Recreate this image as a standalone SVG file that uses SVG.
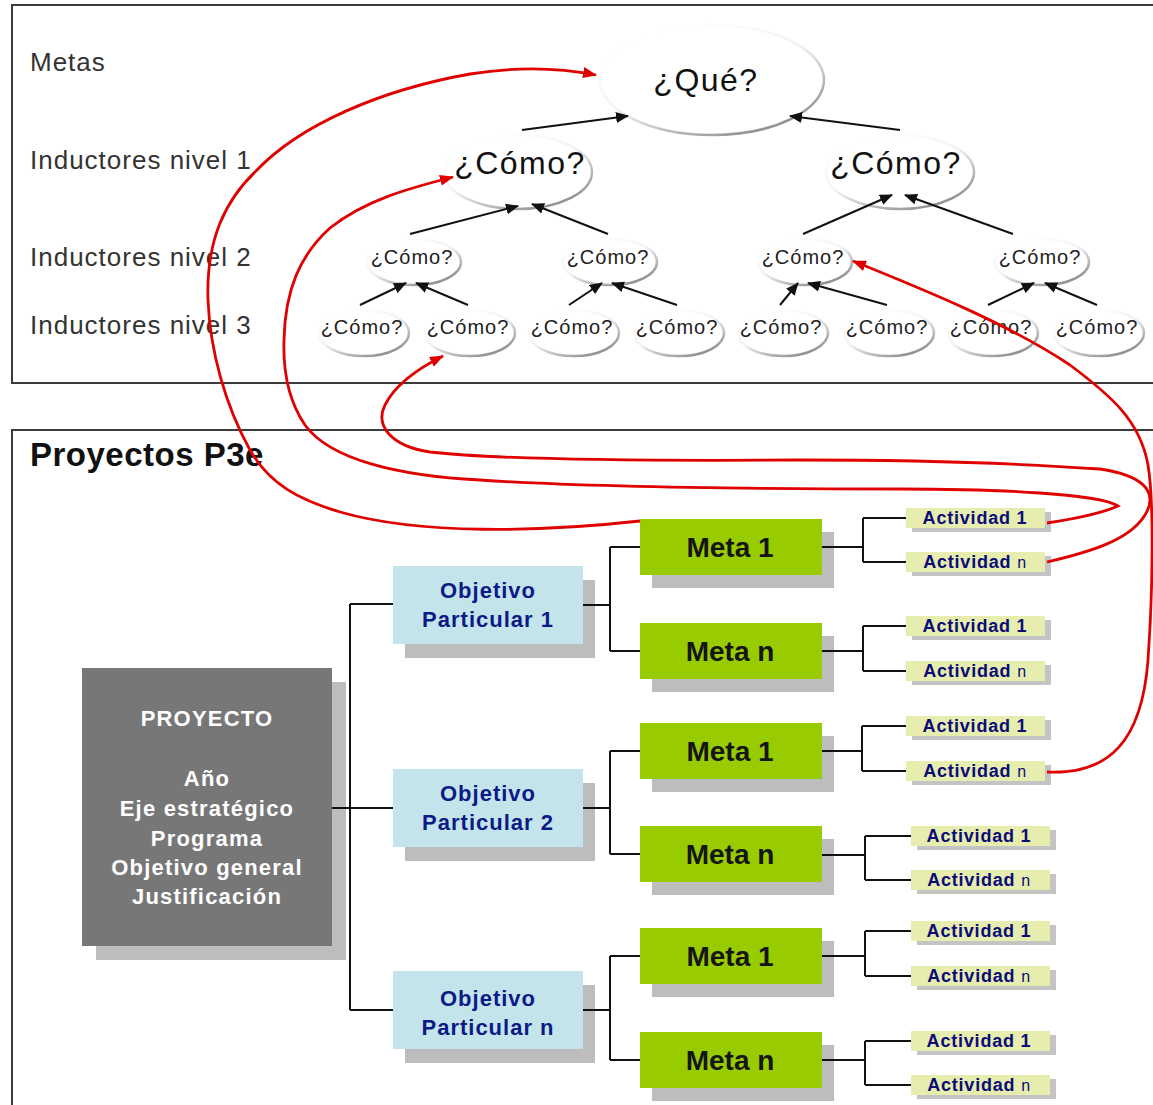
<svg xmlns="http://www.w3.org/2000/svg" width="1153" height="1105" viewBox="0 0 1153 1105">
<defs>
<style>
.panel{fill:none;stroke:#3c3c3c;stroke-width:2}
.lbl{font-family:"Liberation Sans",Arial,sans-serif;font-size:26px;fill:#333;letter-spacing:1px}
.ell{fill:#fff;stroke:url(#eg);stroke-width:2.5}
.q1{font-family:"Liberation Sans",Arial,sans-serif;font-size:32px;fill:#111;letter-spacing:1.5px;text-anchor:middle}
.q2{font-family:"Liberation Sans",Arial,sans-serif;font-size:20px;fill:#222;letter-spacing:1px;text-anchor:middle}
.blk{fill:none;stroke:#111;stroke-width:2;marker-end:url(#ab)}
.red{fill:none;stroke:#e00000;stroke-width:2.8;marker-end:url(#ar)}
.tree{fill:none;stroke:#111;stroke-width:2}
.shd{fill:#bdbdbd}
.proj{fill:#777}
.ptxt{font-family:"Liberation Sans",Arial,sans-serif;font-size:22px;font-weight:bold;fill:#fff;letter-spacing:1.2px;text-anchor:middle}
.obj{fill:#c2e4ea}
.otxt{font-family:"Liberation Sans",Arial,sans-serif;font-size:22px;font-weight:bold;fill:#0c1a86;letter-spacing:1px;text-anchor:middle}
.meta{fill:#99cc00}
.mtxt{font-family:"Liberation Sans",Arial,sans-serif;font-size:28px;font-weight:bold;fill:#151515;text-anchor:middle}
.act{fill:#e6edae}
.ashd{fill:#c4c4c4}
.atxt{font-family:"Liberation Sans",Arial,sans-serif;font-size:18px;font-weight:bold;fill:#0b0b78;letter-spacing:0.8px;text-anchor:middle}
.nn{font-weight:normal;font-size:16px}
.ttl{font-family:"Liberation Sans",Arial,sans-serif;font-size:33px;font-weight:bold;fill:#111;letter-spacing:0.5px}
</style>
<linearGradient id="eg" x1="0.2" y1="0.1" x2="0.8" y2="0.95">
<stop offset="0" stop-color="#ffffff"/>
<stop offset="0.45" stop-color="#f2f2f2"/>
<stop offset="1" stop-color="#8c8c8c"/>
</linearGradient>
<marker id="ab" markerUnits="userSpaceOnUse" markerWidth="13" markerHeight="11" refX="12" refY="5.5" orient="auto">
<path d="M0,0 L13,5.5 L0,11 z" fill="#111"/>
</marker>
<marker id="ar" markerUnits="userSpaceOnUse" markerWidth="14" markerHeight="11" refX="13" refY="5.5" orient="auto">
<path d="M0,0 L14,5.5 L0,11 z" fill="#e00000"/>
</marker>
</defs>
<rect width="1153" height="1105" fill="#fff"/>

<g id="panel-top">
<rect class="panel" x="12" y="5" width="1150" height="378"/>
<text class="lbl" x="30" y="71">Metas</text>
<text class="lbl" x="30" y="169">Inductores nivel 1</text>
<text class="lbl" x="30" y="266">Inductores nivel 2</text>
<text class="lbl" x="30" y="334">Inductores nivel 3</text>
</g>

<g id="panel-bottom">
<rect class="panel" x="12" y="430" width="1150" height="690"/>
<text class="ttl" x="30" y="466">Proyectos P3e</text>
</g>

<g id="que"><ellipse class="ell" cx="712" cy="80" rx="112" ry="55"/><text class="q1" x="706" y="91">¿Qué?</text></g>
<g id="como-1a"><ellipse class="ell" cx="518" cy="172" rx="74" ry="37"/><text class="q1" x="520" y="174">¿Cómo?</text></g>
<g id="como-1b"><ellipse class="ell" cx="900" cy="172" rx="74" ry="37"/><text class="q1" x="896" y="174">¿Cómo?</text></g>

<g id="como-2a"><ellipse class="ell" cx="414" cy="262" rx="47" ry="23"/><text class="q2" x="412" y="264">¿Cómo?</text></g>
<g id="como-2b"><ellipse class="ell" cx="610" cy="262" rx="47" ry="23"/><text class="q2" x="608" y="264">¿Cómo?</text></g>
<g id="como-2c"><ellipse class="ell" cx="805" cy="262" rx="47" ry="23"/><text class="q2" x="803" y="264">¿Cómo?</text></g>
<g id="como-2d"><ellipse class="ell" cx="1042" cy="262" rx="47" ry="23"/><text class="q2" x="1040" y="264">¿Cómo?</text></g>

<g id="como-3a"><ellipse class="ell" cx="364" cy="333" rx="45" ry="23"/><text class="q2" x="362" y="334">¿Cómo?</text></g>
<g id="como-3b"><ellipse class="ell" cx="470" cy="333" rx="45" ry="23"/><text class="q2" x="468" y="334">¿Cómo?</text></g>
<g id="como-3c"><ellipse class="ell" cx="574" cy="333" rx="45" ry="23"/><text class="q2" x="572" y="334">¿Cómo?</text></g>
<g id="como-3d"><ellipse class="ell" cx="679" cy="333" rx="45" ry="23"/><text class="q2" x="677" y="334">¿Cómo?</text></g>
<g id="como-3e"><ellipse class="ell" cx="783" cy="333" rx="45" ry="23"/><text class="q2" x="781" y="334">¿Cómo?</text></g>
<g id="como-3f"><ellipse class="ell" cx="889" cy="333" rx="45" ry="23"/><text class="q2" x="887" y="334">¿Cómo?</text></g>
<g id="como-3g"><ellipse class="ell" cx="993" cy="333" rx="45" ry="23"/><text class="q2" x="991" y="334">¿Cómo?</text></g>
<g id="como-3h"><ellipse class="ell" cx="1099" cy="333" rx="45" ry="23"/><text class="q2" x="1097" y="334">¿Cómo?</text></g>

<g id="proyecto">
<rect class="shd" x="96" y="682" width="250" height="278"/>
<rect class="proj" x="82" y="668" width="250" height="278"/>
<text class="ptxt" x="207" y="726">PROYECTO</text>
<text class="ptxt" x="207" y="786">Año</text>
<text class="ptxt" x="207" y="816">Eje estratégico</text>
<text class="ptxt" x="207" y="846">Programa</text>
<text class="ptxt" x="207" y="875">Objetivo general</text>
<text class="ptxt" x="207" y="904">Justificación</text>
</g>

<g id="obj-1"><rect class="shd" x="405" y="580" width="190" height="78"/><rect class="obj" x="393" y="566" width="190" height="78"/><text class="otxt" x="488" y="598">Objetivo</text><text class="otxt" x="488" y="627">Particular 1</text></g>
<g id="obj-2"><rect class="shd" x="405" y="783" width="190" height="78"/><rect class="obj" x="393" y="769" width="190" height="78"/><text class="otxt" x="488" y="801">Objetivo</text><text class="otxt" x="488" y="830">Particular 2</text></g>
<g id="obj-n"><rect class="shd" x="405" y="985" width="190" height="78"/><rect class="obj" x="393" y="971" width="190" height="78"/><text class="otxt" x="488" y="1006">Objetivo</text><text class="otxt" x="488" y="1035">Particular n</text></g>

<g id="meta-1-1"><rect class="shd" x="652" y="532" width="182" height="56"/><rect class="meta" x="640" y="519" width="182" height="56"/><text class="mtxt" x="730" y="557">Meta 1</text></g>
<g id="meta-1-n"><rect class="shd" x="652" y="636" width="182" height="56"/><rect class="meta" x="640" y="623" width="182" height="56"/><text class="mtxt" x="730" y="661">Meta n</text></g>
<g id="meta-2-1"><rect class="shd" x="652" y="736" width="182" height="56"/><rect class="meta" x="640" y="723" width="182" height="56"/><text class="mtxt" x="730" y="761">Meta 1</text></g>
<g id="meta-2-n"><rect class="shd" x="652" y="839" width="182" height="56"/><rect class="meta" x="640" y="826" width="182" height="56"/><text class="mtxt" x="730" y="864">Meta n</text></g>
<g id="meta-3-1"><rect class="shd" x="652" y="941" width="182" height="56"/><rect class="meta" x="640" y="928" width="182" height="56"/><text class="mtxt" x="730" y="966">Meta 1</text></g>
<g id="meta-3-n"><rect class="shd" x="652" y="1045" width="182" height="56"/><rect class="meta" x="640" y="1032" width="182" height="56"/><text class="mtxt" x="730" y="1070">Meta n</text></g>

<g id="act-1-1-1"><rect class="ashd" x="912" y="512" width="139" height="20"/><rect class="act" x="906" y="508" width="139" height="20"/><text class="atxt" x="975" y="524">Actividad 1</text></g>
<g id="act-1-1-n"><rect class="ashd" x="912" y="556" width="139" height="20"/><rect class="act" x="906" y="552" width="139" height="20"/><text class="atxt" x="975" y="568">Actividad <tspan class="nn">n</tspan></text></g>
<g id="act-1-n-1"><rect class="ashd" x="912" y="620" width="139" height="20"/><rect class="act" x="906" y="616" width="139" height="20"/><text class="atxt" x="975" y="632">Actividad 1</text></g>
<g id="act-1-n-n"><rect class="ashd" x="912" y="665" width="139" height="20"/><rect class="act" x="906" y="661" width="139" height="20"/><text class="atxt" x="975" y="677">Actividad <tspan class="nn">n</tspan></text></g>
<g id="act-2-1-1"><rect class="ashd" x="912" y="720" width="139" height="20"/><rect class="act" x="906" y="716" width="139" height="20"/><text class="atxt" x="975" y="732">Actividad 1</text></g>
<g id="act-2-1-n"><rect class="ashd" x="912" y="765" width="139" height="20"/><rect class="act" x="906" y="761" width="139" height="20"/><text class="atxt" x="975" y="777">Actividad <tspan class="nn">n</tspan></text></g>
<g id="act-2-n-1"><rect class="ashd" x="917" y="830" width="139" height="20"/><rect class="act" x="911" y="826" width="139" height="20"/><text class="atxt" x="979" y="842">Actividad 1</text></g>
<g id="act-2-n-n"><rect class="ashd" x="917" y="874" width="139" height="20"/><rect class="act" x="911" y="870" width="139" height="20"/><text class="atxt" x="979" y="886">Actividad <tspan class="nn">n</tspan></text></g>
<g id="act-3-1-1"><rect class="ashd" x="917" y="925" width="139" height="20"/><rect class="act" x="911" y="921" width="139" height="20"/><text class="atxt" x="979" y="937">Actividad 1</text></g>
<g id="act-3-1-n"><rect class="ashd" x="917" y="970" width="139" height="20"/><rect class="act" x="911" y="966" width="139" height="20"/><text class="atxt" x="979" y="982">Actividad <tspan class="nn">n</tspan></text></g>
<g id="act-3-n-1"><rect class="ashd" x="917" y="1035" width="139" height="20"/><rect class="act" x="911" y="1031" width="139" height="20"/><text class="atxt" x="979" y="1047">Actividad 1</text></g>
<g id="act-3-n-n"><rect class="ashd" x="917" y="1079" width="139" height="20"/><rect class="act" x="911" y="1075" width="139" height="20"/><text class="atxt" x="979" y="1091">Actividad <tspan class="nn">n</tspan></text></g>

<g id="connectors">
<path class="tree" d="M332,808 H393 M350,604 V1010 M350,604 H393 M350,1010 H393"/>
<path class="tree" d="M583,605 H610 M610,547 V651 M610,547 H640 M610,651 H640"/>
<path class="tree" d="M583,808 H610 M610,751 V854 M610,751 H640 M610,854 H640"/>
<path class="tree" d="M583,1010 H610 M610,956 V1060 M610,956 H640 M610,1060 H640"/>
<path class="tree" d="M822,547 H863 M863,518 V562 M863,518 H906 M863,562 H906"/>
<path class="tree" d="M822,651 H863 M863,626 V671 M863,626 H906 M863,671 H906"/>
<path class="tree" d="M822,751 H862 M862,726 V771 M862,726 H906 M862,771 H906"/>
<path class="tree" d="M822,855 H865 M865,836 V880 M865,836 H911 M865,880 H911"/>
<path class="tree" d="M822,956 H865 M865,931 V976 M865,931 H911 M865,976 H911"/>
<path class="tree" d="M822,1060 H865 M865,1041 V1085 M865,1041 H911 M865,1085 H911"/>

<line class="blk" x1="522" y1="130" x2="628" y2="116"/>
<line class="blk" x1="900" y1="130" x2="790" y2="116"/>
<line class="blk" x1="410" y1="234" x2="518" y2="206"/>
<line class="blk" x1="608" y1="234" x2="532" y2="204"/>
<line class="blk" x1="803" y1="234" x2="892" y2="195"/>
<line class="blk" x1="1013" y1="234" x2="905" y2="195"/>
<line class="blk" x1="360" y1="305" x2="406" y2="283"/>
<line class="blk" x1="468" y1="305" x2="416" y2="283"/>
<line class="blk" x1="569" y1="305" x2="602" y2="283"/>
<line class="blk" x1="677" y1="305" x2="612" y2="283"/>
<line class="blk" x1="780" y1="305" x2="798" y2="283"/>
<line class="blk" x1="887" y1="305" x2="808" y2="283"/>
<line class="blk" x1="988" y1="305" x2="1034" y2="283"/>
<line class="blk" x1="1097" y1="305" x2="1045" y2="283"/>

<path class="red" d="M640,521 C540,532 420,535 340,512 C300,500 270,485 250,450 C225,405 210,350 208,300 C206,240 225,200 257,170 C300,125 380,90 470,74 C520,66 560,68 596,75"/>
<path class="red" d="M1047,523 C1080,518 1105,512 1118,506 C1100,494 1000,489 900,489 C780,489 600,488 480,480 C400,476 330,460 305,425 C288,400 283,370 284,340 C285,290 300,255 330,228 C365,200 410,188 453,177"/>
<path class="red" d="M1047,562 C1090,552 1130,540 1145,515 C1160,490 1140,475 1100,469 C1000,462 900,460 800,460 C650,461 500,460 430,452 C390,446 375,425 385,405 C395,385 415,370 443,356"/>
<path class="red" d="M1047,772 C1110,775 1142,740 1148,660 C1153,590 1154,500 1148,465 C1140,420 1110,395 1070,365 C1010,325 930,292 853,261"/>
</g>
</svg>
